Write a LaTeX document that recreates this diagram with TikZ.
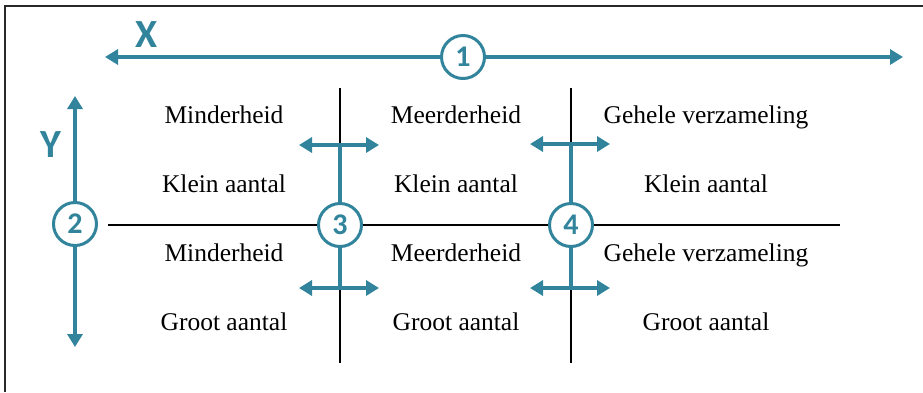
\documentclass[tikz,border=0pt]{standalone}
\usepackage{fontspec}
\setmainfont{Liberation Serif}
\newfontfamily\axisfont{Carlito}
\usepackage{xcolor}
\usepackage{tikz}
\usetikzlibrary{arrows.meta, positioning}
\definecolor{axisteal}{RGB}{49, 132, 155}
\definecolor{framegray}{RGB}{40, 40, 40}

\tikzset{
    axisline/.style={line width=4pt, axisteal},
    axistip/.style={{Triangle[length=13pt,width=15pt]}-{Triangle[length=13pt,width=15pt]}},
    numcirc/.style={circle, draw=axisteal, line width=3pt, fill=white, text=axisteal,
        minimum size=43pt, inner sep=0pt, font=\axisfont\bfseries\fontsize{30}{30}\selectfont},
    axisletter/.style={text=axisteal, anchor=base, font=\axisfont\bfseries\fontsize{40}{40}\selectfont},
    cell/.style={anchor=base, font=\fontsize{25.5}{28}\selectfont},
    gridline/.style={line width=1.3pt, black}
}

\begin{document}
\begin{tikzpicture}[x=1pt, y=-1pt]
        \useasboundingbox (0,0) rectangle (923,392);

        % Frame
        \draw[line width=1.6pt, framegray] (5,392) -- (5,6) -- (923,6);

        % Grid
        \coordinate (hl) at (108,225);
        \coordinate (hr) at (840,225);
        \coordinate (v3t) at (340,88);
        \coordinate (v3b) at (340,363);
        \coordinate (v4t) at (571,88);
        \coordinate (v4b) at (571,363);
        \draw[gridline] (v3t) -- (v3b);
        \draw[gridline] (v4t) -- (v4b);

        % Numbered circles
        \node[numcirc] (n1) at (463,57) {1};
        \node[numcirc] (n2) at (75,224) {2};
        \node[numcirc] (n3) at (340,225) {3};
        \node[numcirc] (n4) at (571,225) {4};

        \draw[gridline] (hl) -- (n3);
        \draw[gridline] (n3) -- (n4);
        \draw[gridline] (n4) -- (hr);

        % Axis X
        \coordinate (xl) at (105,57);
        \coordinate (xr) at (903,57);
        \draw[axisline, {Triangle[length=13pt,width=15pt]}-] (xl) -- (n1);
        \draw[axisline, -{Triangle[length=13pt,width=15pt]}] (n1) -- (xr);
        \node[axisletter] (xlab) at (147,47) {X};

        % Axis Y
        \coordinate (yt) at (75,96);
        \coordinate (yb) at (75,347);
        \draw[axisline, {Triangle[length=13pt,width=15pt]}-] (yt) -- (n2);
        \draw[axisline, -{Triangle[length=13pt,width=15pt]}] (n2) -- (yb);
        \node[axisletter] (ylab) at (51,157) {Y};

        % Bars at 3
        \coordinate (b3t) at (340,145);
        \coordinate (b3tl) at (299,145);
        \coordinate (b3tr) at (379,145);
        \coordinate (b3b) at (340,288);
        \coordinate (b3bl) at (299,288);
        \coordinate (b3br) at (379,288);
        \draw[axisline] (n3) -- (b3t);
        \draw[axisline] (n3) -- (b3b);
        \draw[axisline, axistip] (b3tl) -- (b3tr);
        \draw[axisline, axistip] (b3bl) -- (b3br);

        % Bars at 4
        \coordinate (b4t) at (571,144);
        \coordinate (b4tl) at (530,144);
        \coordinate (b4tr) at (610,144);
        \coordinate (b4b) at (571,288);
        \coordinate (b4bl) at (530,288);
        \coordinate (b4br) at (610,288);
        \draw[axisline] (n4) -- (b4t);
        \draw[axisline] (n4) -- (b4b);
        \draw[axisline, axistip] (b4tl) -- (b4tr);
        \draw[axisline, axistip] (b4bl) -- (b4br);

        % Cells
        \node[cell] (c11) at (224,123) {Minderheid};
        \node[cell] (c12) at (456,123) {Meerderheid};
        \node[cell] (c13) at (706,123) {Gehele verzameling};
        \node[cell] (c21) at (224,192) {Klein aantal};
        \node[cell] (c22) at (456,192) {Klein aantal};
        \node[cell] (c23) at (706,192) {Klein aantal};
        \node[cell] (c31) at (224,261) {Minderheid};
        \node[cell] (c32) at (456,261) {Meerderheid};
        \node[cell] (c33) at (706,261) {Gehele verzameling};
        \node[cell] (c41) at (224,330) {Groot aantal};
        \node[cell] (c42) at (456,330) {Groot aantal};
        \node[cell] (c43) at (706,330) {Groot aantal};
    \end{tikzpicture}
\end{document}
